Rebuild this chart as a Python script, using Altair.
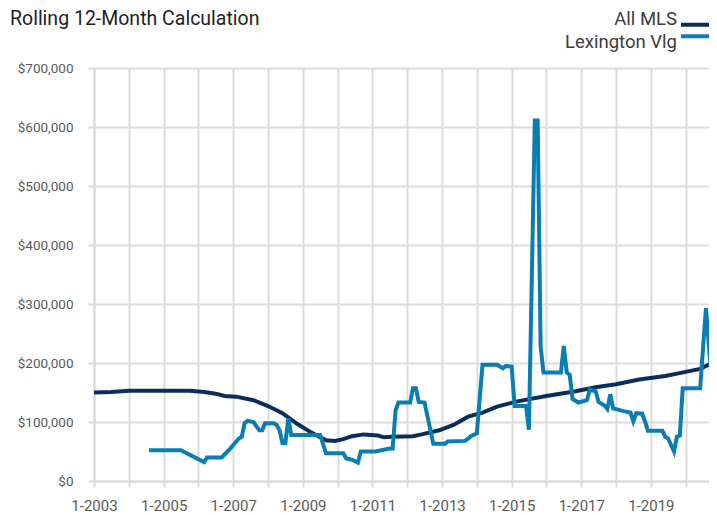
import altair as alt
import pandas as pd

# ---------------- data ----------------
title_text = "Rolling 12-Month Calculation"
series_names = ["All MLS", "Lexington Vlg"]
series_colors = ["#0b2d5e", "#0a7db2"]

mls_dates = [
    "2003-01", "2003-07", "2004-01", "2005-01", "2005-10", "2006-03", "2006-07",
    "2006-10", "2007-02", "2007-08", "2008-01", "2008-06", "2008-11", "2009-04",
    "2009-09", "2009-12", "2010-03", "2010-06", "2010-10", "2011-03", "2011-05",
    "2011-08", "2012-03", "2012-06", "2012-12", "2013-05", "2013-10", "2014-03",
    "2014-08", "2015-03", "2016-01", "2016-11", "2017-06", "2018-01", "2018-09",
    "2019-06", "2020-01", "2020-06", "2020-12",
]
mls_values = [
    150000, 151000, 153000, 153000, 153000, 151000, 148000,
    144000, 143000, 137000, 127000, 115000, 97000, 82000,
    69000, 68000, 71000, 76000, 79000, 77000, 74000,
    75000, 76000, 79000, 86000, 95000, 109000, 116000,
    126000, 135000, 144000, 152000, 159000, 164000, 172000,
    178000, 185000, 190000, 205000,
]

lex_dates = [
    "2004-08", "2005-07", "2006-03", "2006-04", "2006-09", "2006-11", "2006-12",
    "2007-01", "2007-03", "2007-04", "2007-05", "2007-06", "2007-08", "2007-10",
    "2007-11", "2007-12", "2008-03", "2008-04", "2008-05", "2008-06", "2008-07",
    "2008-08", "2008-09", "2009-07", "2009-09", "2010-03", "2010-04", "2010-06",
    "2010-08", "2010-09", "2011-02", "2011-07", "2011-08", "2011-09", "2011-10",
    "2012-02", "2012-03", "2012-04", "2012-05", "2012-07", "2012-10", "2013-02",
    "2013-03", "2013-09", "2013-11", "2014-01", "2014-03", "2014-08", "2014-10",
    "2014-11", "2015-01", "2015-02", "2015-06", "2015-07", "2015-09", "2015-10",
    "2015-11", "2015-12", "2016-06", "2016-07", "2016-08", "2016-09", "2016-10",
    "2016-12", "2017-03", "2017-04", "2017-06", "2017-07", "2017-09", "2017-10",
    "2017-11", "2017-12", "2018-04", "2018-06", "2018-07", "2018-08", "2018-10",
    "2018-11", "2018-12", "2019-05", "2019-06", "2019-07", "2019-09", "2019-10",
    "2019-11", "2019-12", "2020-06", "2020-08", "2020-10", "2020-12",
]
lex_values = [
    52000, 52000, 32000, 40000, 40000, 50000, 55000,
    61000, 72000, 75000, 98000, 102000, 100000, 86000,
    86000, 98000, 98000, 95000, 86000, 64000, 64000,
    106000, 78000, 78000, 47000, 47000, 38000, 36000,
    31000, 50000, 50000, 55000, 55000, 120000, 133000,
    133000, 157000, 157000, 134000, 133000, 63000, 63000,
    67000, 68000, 76000, 81000, 197000, 197000, 191000,
    195000, 194000, 127000, 127000, 87000, 611000, 611000,
    228000, 184000, 184000, 229000, 184000, 180000, 139000,
    133000, 137000, 155000, 152000, 134000, 128000, 122000,
    147000, 123000, 118000, 116000, 101000, 115000, 114000,
    101000, 85000, 85000, 75000, 72000, 50000, 75000,
    77000, 157000, 157000, 293000, 168000, 168000,
]

y_ticks = [0, 100000, 200000, 300000, 400000, 500000, 600000, 700000]
x_tick_years = list(range(2003, 2021))

# ---------------- tables ----------------
df = pd.concat([
    pd.DataFrame({"date": [d + "-01" for d in mls_dates], "value": mls_values, "series": series_names[0]}),
    pd.DataFrame({"date": [d + "-01" for d in lex_dates], "value": lex_values, "series": series_names[1]}),
], ignore_index=True)
legend_df = pd.DataFrame({"series": series_names})
title_df = pd.DataFrame({"title": [title_text]})

FONT = "Roboto, Liberation Sans, sans-serif"
GRID = "#dcdcdc"

color_scale = alt.Scale(domain=series_names, range=series_colors)

lines = alt.Chart(df).mark_line(strokeWidth=4, clip=True).encode(
    x=alt.X(
        "date:T",
        scale=alt.Scale(
            type="utc",
            domain=[alt.DateTime(year=2003, month=1, date=1, utc=True),
                    alt.DateTime(year=2020, month=9, date=2, utc=True)],
        ),
        axis=alt.Axis(
            title=None,
            values=[alt.DateTime(year=y, month=1, date=1, utc=True) for y in x_tick_years],
            labelExpr="utcyear(datum.value) % 2 == 1 ? utcFormat(datum.value, '%-m-%Y') : ''",
            labelPadding=11,
            labelFontSize=15,
        ),
    ),
    y=alt.Y(
        "value:Q",
        scale=alt.Scale(domain=[0, 700000]),
        axis=alt.Axis(title=None, values=y_ticks, format="$,.0f", labelPadding=15,
                      labelFontSize=13.5),
    ),
    color=alt.Color("series:N", scale=color_scale, legend=None),
)

# legend drawn as marks: label to the left, line swatch to the right
legend_y = alt.Y("series:N", scale=alt.Scale(domain=series_names, range=[-49, -26], padding=0),
                 axis=None)
legend_rule = alt.Chart(legend_df).mark_rule(strokeWidth=4).encode(
    x=alt.value(587),
    x2=alt.value(615),
    y=legend_y,
    color=alt.Color("series:N", scale=color_scale, legend=None),
)
legend_text = alt.Chart(legend_df).mark_text(
    align="right", baseline="middle", font=FONT, fontSize=18.5, color="#3c3c3c",
).encode(
    x=alt.value(583),
    y=legend_y,
    text="series:N",
)

title_layer = alt.Chart(title_df).mark_text(
    align="left", baseline="alphabetic", font=FONT, fontSize=19.5, color="#1e1e1e",
).encode(
    text="title:N",
    x=alt.value(-84),
    y=alt.value(-43),
)

chart = alt.layer(lines, legend_rule, legend_text, title_layer).resolve_scale(
    y="independent"
).properties(
    width=615,
    height=413,
    autosize=alt.AutoSizeParams(type="none"),
    padding={"left": 86, "top": 60, "right": 0, "bottom": 34},
).configure_axis(
    grid=True,
    gridColor=GRID,
    gridWidth=2,
    domainColor=GRID,
    domainWidth=2,
    tickColor=GRID,
    tickWidth=2,
    tickSize=6,
    labelFont=FONT,
    labelColor="#5a5a5a",
    labelOverlap=False,
    labelFlush=False,
).configure_view(stroke=None)

chart.save("out.html", embed_options={"renderer": "svg", "actions": False})
